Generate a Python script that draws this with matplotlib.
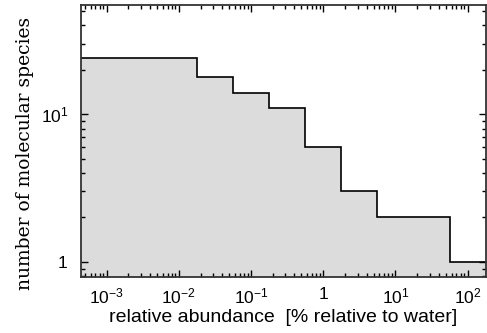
import numpy as np
import matplotlib
matplotlib.use('Agg')
import matplotlib.pyplot as plt
from matplotlib.ticker import LogLocator, FixedLocator, NullFormatter

# abundance thresholds (% relative to water) where the count steps down
thresholds = [0.0178, 0.0562, 0.178, 0.562, 1.78, 5.62, 56.2]
# number of species above each abundance bin
counts = [24, 18, 14, 11, 6, 3, 2, 1]

xlim = (4.4e-4, 180)
ylim = (0.79, 55)

x_ticks = [1e-3, 1e-2, 1e-1, 1, 10, 100]
x_labels = [r'$10^{-3}$', r'$10^{-2}$', r'$10^{-1}$', '1', r'$10^{1}$', r'$10^{2}$']
y_ticks = [1, 10]
y_labels = [r'$\mathrm{1}$', r'$\mathrm{10^{1}}$']

plt.rcParams['mathtext.fontset'] = 'custom'
plt.rcParams['mathtext.rm'] = 'Liberation Sans'
plt.rcParams['mathtext.it'] = 'Liberation Sans'
plt.rcParams['font.family'] = 'Liberation Sans'

fig = plt.figure(figsize=(4.87, 3.33), dpi=100)
ax = fig.add_axes([0.166, 0.168, 0.832, 0.817])

edges = [xlim[0]] + thresholds + [xlim[1]]
ax.stairs(counts, edges, baseline=ylim[0], fill=True, color='#dcdcdc')
ax.stairs(counts, edges, baseline=None, color='black', linewidth=1.2)

ax.set_xscale('log')
ax.set_yscale('log')
ax.set_xlim(*xlim)
ax.set_ylim(*ylim)

ax.xaxis.set_major_locator(FixedLocator(x_ticks))
ax.set_xticklabels(x_labels)
ax.xaxis.set_minor_locator(LogLocator(base=10, subs=np.arange(2, 10), numticks=20))
ax.xaxis.set_minor_formatter(NullFormatter())
ax.yaxis.set_major_locator(FixedLocator(y_ticks))
ax.yaxis.set_minor_locator(LogLocator(base=10, subs=np.arange(2, 10), numticks=20))
ax.yaxis.set_minor_formatter(NullFormatter())
ax.set_yticklabels(y_labels)
for t in ax.get_yticklabels():
    t.set_fontfamily('DejaVu Serif')

ax.tick_params(which='both', direction='in', top=True, right=True, width=1.0)
ax.tick_params(which='major', length=5)
ax.tick_params(which='minor', length=3)
ax.tick_params(axis='x', labelsize=12.5, pad=7)
ax.tick_params(axis='y', labelsize=12.5, pad=9)
for s in ax.spines.values():
    s.set_linewidth(1.3)
    s.set_color('#333333')

ax.set_xlabel('relative abundance  [% relative to water]', fontsize=14, labelpad=2)
ax.set_ylabel('number of molecular species', fontsize=13.5, family='DejaVu Serif',
              fontweight='medium')
ax.yaxis.set_label_coords(-0.115, 0.455)

fig.savefig('out.png', dpi=100)
